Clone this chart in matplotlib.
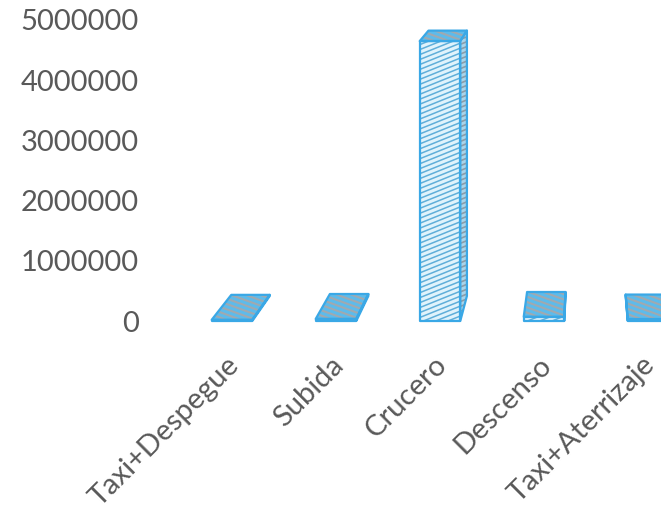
import numpy as np
import matplotlib
matplotlib.use("Agg")
import matplotlib.pyplot as plt
from matplotlib.patches import Polygon
from matplotlib.collections import LineCollection
from matplotlib.transforms import ScaledTranslation

# ---- data -------------------------------------------------------------
categories = ["Taxi+Despegue", "Subida", "Crucero", "Descenso", "Taxi+Aterrizaje"]
values = [20000, 35000, 4650000, 70000, 25000]
yticks = [0, 1000000, 2000000, 3000000, 4000000, 5000000]

# ---- figure / axes ----------------------------------------------------
W, H, DPI = 661, 505, 100
fig = plt.figure(figsize=(W / DPI, H / DPI), dpi=DPI)
ax = fig.add_axes([180 / W, (H - 321) / H, (W - 180) / W, (321 - 20) / H])
ax.set_xlim(-0.5, 4.125)
ax.set_ylim(0, 5000000)
for s in ax.spines.values():
    s.set_visible(False)

TEXT = "#595959"
FONT = "Lato"
ax.set_yticks(yticks)
ax.set_yticklabels([str(v) for v in yticks], fontsize=21, color=TEXT, family=FONT)
ax.set_xticks(range(len(categories)))
ax.set_xticklabels(categories, rotation=45, ha="right", va="center",
                   rotation_mode="anchor", fontsize=21, color=TEXT, family=FONT)
ax.tick_params(axis="y", length=0, pad=29.5)
ax.tick_params(axis="x", length=0, pad=0)
shift = ScaledTranslation(3 / DPI, -40 / DPI, fig.dpi_scale_trans)
for lab in ax.get_xticklabels():
    lab.set_transform(lab.get_transform() + shift)

# ---- pseudo-3D column drawing -----------------------------------------
VP = np.array([588.0, H + 160.0])   # vanishing point (display px)
DEPTH = 0.052                       # how far the back face recedes
BAR_W = 0.39
EDGE = "#3AA8E6"

to_data = ax.transData.inverted()


def back(p):
    p = np.asarray(p, float)
    return p + DEPTH * (VP - p)


def hatched_face(verts, fill, line_color, angle, spacing, lw):
    verts = np.asarray(verts, float)
    poly = Polygon(to_data.transform(verts), closed=True, facecolor=fill,
                   edgecolor="none", clip_on=False, zorder=2)
    ax.add_patch(poly)
    th = np.deg2rad(angle)
    d = np.array([np.cos(th), np.sin(th)])
    n = np.array([-np.sin(th), np.cos(th)])
    pn = verts @ n
    pd = verts @ d
    segs = []
    for c in np.arange(pn.min() - spacing, pn.max() + spacing, spacing):
        a = c * n + (pd.min() - 5) * d
        b = c * n + (pd.max() + 5) * d
        segs.append(to_data.transform(np.array([a, b])))
    lc = LineCollection(segs, colors=line_color, linewidths=lw, zorder=3)
    lc.set_clip_path(poly)
    ax.add_collection(lc, autolim=False)
    outline = Polygon(to_data.transform(verts), closed=True, facecolor="none",
                      edgecolor=EDGE, linewidth=1.6, joinstyle="round",
                      clip_on=False, zorder=4)
    ax.add_patch(outline)


for i, v in enumerate(values):
    (x0, y0) = ax.transData.transform((i - BAR_W / 2, 0))
    (x1, y1) = ax.transData.transform((i + BAR_W / 2, v))
    bl, br, tr, tl = (x0, y0), (x1, y0), (x1, y1), (x0, y1)
    if x1 < VP[0]:
        hatched_face([br, tr, back(tr), back(br)], "#A9D4EA", "#8C9CA8", 22, 4.5, 1.2)
    if x0 > VP[0]:
        hatched_face([bl, tl, back(tl), back(bl)], "#A9D4EA", "#8C9CA8", 22, 4.5, 1.2)
    hatched_face([tl, tr, back(tr), back(tl)], "#5DBBEB", "#A0A9B0", -20, 5.0, 1.5)
    hatched_face([bl, br, tr, tl], "#E0F3FC", "#5FAED9", 22, 4.6, 1.1)

fig.savefig("out.png", dpi=DPI)
